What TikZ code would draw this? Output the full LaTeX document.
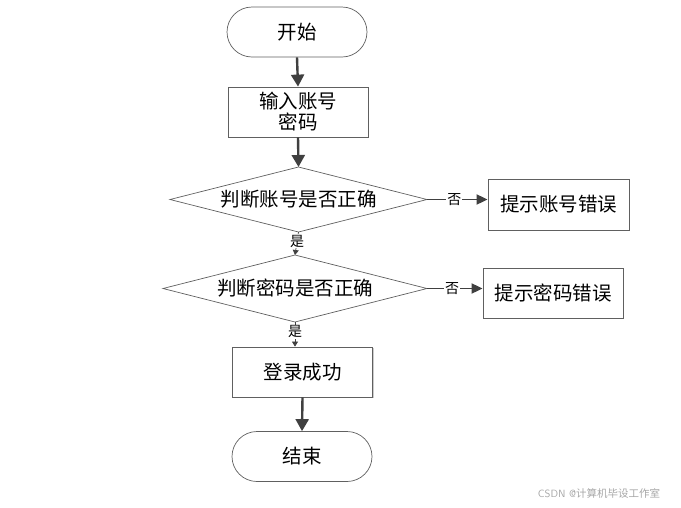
\documentclass[tikz,border=0pt]{standalone}
\usepackage{fontspec}
\newfontfamily\cjk{Noto Sans CJK SC}
\usetikzlibrary{arrows.meta,shadows}
\definecolor{ln}{HTML}{404040}
\definecolor{bd}{HTML}{606060}
\begin{document}
\begin{tikzpicture}[x=1pt,y=-1pt,
  every node/.style={font=\cjk\fontsize{19.5}{24}\selectfont},
  term/.style={draw=bd,line width=0.7pt,rounded corners=25pt,minimum width=140pt,minimum height=50pt,inner sep=0pt},
  proc/.style={draw=bd,line width=0.8pt,minimum width=140pt,minimum height=50pt,inner sep=0pt,align=center,
    drop shadow={shadow xshift=1.2pt,shadow yshift=-1.2pt,fill=gray!40,opacity=1}, fill=white},
  decline/.style={draw=bd,line width=0.7pt},
  bigarrow/.style={draw=ln,line width=2.4pt,-{Triangle[length=12pt,width=13pt]}},
  midarrow/.style={draw=ln,line width=1.8pt,-{Triangle[length=11pt,width=10pt]}},
  smallarrow/.style={draw=ln,line width=0.7pt,-{Triangle[length=5pt,width=6pt]}},
  lab/.style={font=\cjk\fontsize{14}{16}\selectfont,fill=white,inner sep=1pt}]
\useasboundingbox (0,0) rectangle (681,507);
\node[term] (s) at (297,32) {开始};
\node[proc] (b1) at (298,112) {输入账号\\[-3pt]密码};
% decision 1
\node (d1) at (298.5,199.5) {判断账号是否正确};
\coordinate (d1n) at (298.5,167);
\coordinate (d1s) at (298.5,232);
\coordinate (d1w) at (170,199.5);
\coordinate (d1e) at (427,199.5);
\draw[decline] (d1n) -- (d1e) -- (d1s) -- (d1w) -- cycle;
\node[proc,minimum width=141pt,minimum height=51pt] (e1) at (558.5,204.5) {提示账号错误};
% decision 2
\node (d2) at (295,288.5) {判断密码是否正确};
\coordinate (d2n) at (295,255);
\coordinate (d2s) at (295,322);
\coordinate (d2w) at (163,288.5);
\coordinate (d2e) at (427,288.5);
\draw[decline] (d2n) -- (d2e) -- (d2s) -- (d2w) -- cycle;
\node[proc] (e2) at (553,293) {提示密码错误};
\node[proc] (b4) at (302.5,372) {登录成功};
\node[term] (t) at (302,456.5) {结束};
\node[font=\sffamily\fontsize{10.5}{12}\selectfont,text=gray!70] (wm) at (599,493) {CSDN @{\cjk 计算机毕设工作室}};
\draw[bigarrow] (s.south) -- (b1.north);
\draw[bigarrow] (b1.south) -- (d1n);
\draw[midarrow] (d1e) -- (d1e -| e1.west) node[lab,pos=0.45] {否};
\draw[midarrow] (d2e) -- (d2e -| e2.west) node[lab,pos=0.45] {否};
\draw[smallarrow] (d1s) -- (d2n) node[lab,pos=0.4] {是};
\draw[smallarrow] (d2s) -- (d2s |- b4.north) node[lab,pos=0.4] {是};
\draw[bigarrow] (b4.south) -- (t.north);
\end{tikzpicture}
\end{document}
